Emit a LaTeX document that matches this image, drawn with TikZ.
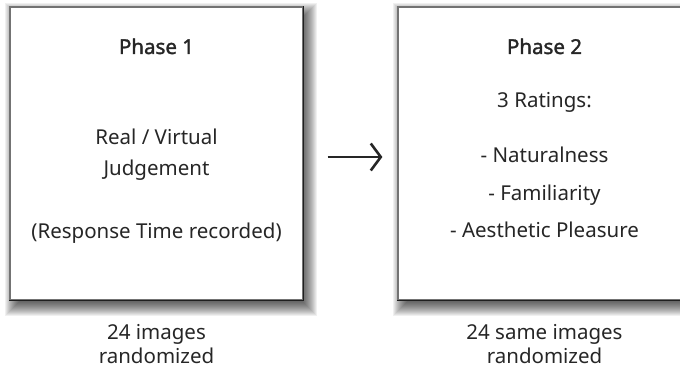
\documentclass[tikz,border=0pt]{standalone}
\usepackage{fontspec}
\setmainfont{Noto Sans}[AutoFakeBold=1.6]
\usetikzlibrary{arrows.meta}
\begin{document}
\begin{tikzpicture}[x=1pt,y=-1pt,
  txt/.style={text=black!85, font=\fontsize{20.5}{24}\selectfont, anchor=base, inner sep=0pt},
  ttl/.style={text=black!85, font=\fontsize{20.5}{24}\selectfont\bfseries, anchor=base, inner sep=0pt},
  box/.style={draw=black!55, line width=1.2pt, fill=white, minimum width=293pt, minimum height=293pt, inner sep=0pt},
  edge/.style={draw=black!88, line width=1.3pt},
  flow/.style={line width=2.6pt, black!85, -{Straight Barb[length=10pt,width=27pt,line width=2.6pt]}}]
\useasboundingbox (0,0) rectangle (680,369);
\clip (0,0) rectangle (680,369);
% blurred drop shadows
\foreach \bx in {10,398}{
  \foreach \s in {-9,...,9}{
    \fill[black, opacity=0.06] (\bx+4+\s, 12+\s) rectangle (\bx+298-\s, 307-\s);
  }
}
% boxes
\node[box] (b1) at (156.5,153.5) {};
\node[box] (b2) at (544.5,153.5) {};
\draw[edge] (b1.north east) -- (b1.south east) -- (b1.south west);
\draw[edge] (b2.north east) -- (b2.south east) -- (b2.south west);
% phase 1 text
\node[ttl] (p1) at (156.5,54) {Phase 1};
\node[txt] (rv) at (156.5,144) {Real / Virtual};
\node[txt] (jd) at (156.5,175) {Judgement};
\node[txt] (rt) at (156.5,238) {(Response Time recorded)};
% phase 2 text
\node[ttl] (p2) at (544.5,54) {Phase 2};
\node[txt] (r3) at (544.5,107) {3 Ratings:};
\node[txt] (na) at (544.5,162) {- Naturalness};
\node[txt] (fa) at (544.5,200) {- Familiarity};
\node[txt] (ae) at (544.5,237) {- Aesthetic Pleasure};
% captions
\node[txt] (c1a) at (156.5,339) {24 images};
\node[txt] (c1b) at (156.5,363) {randomized};
\node[txt] (c2a) at (544.5,339) {24 same images};
\node[txt] (c2b) at (544.5,363) {randomized};
% arrow
\draw[flow] ([xshift=24pt,yshift=-3.5pt]b1.east) -- ([xshift=-15pt,yshift=-3.5pt]b2.west);
\end{tikzpicture}
\end{document}
